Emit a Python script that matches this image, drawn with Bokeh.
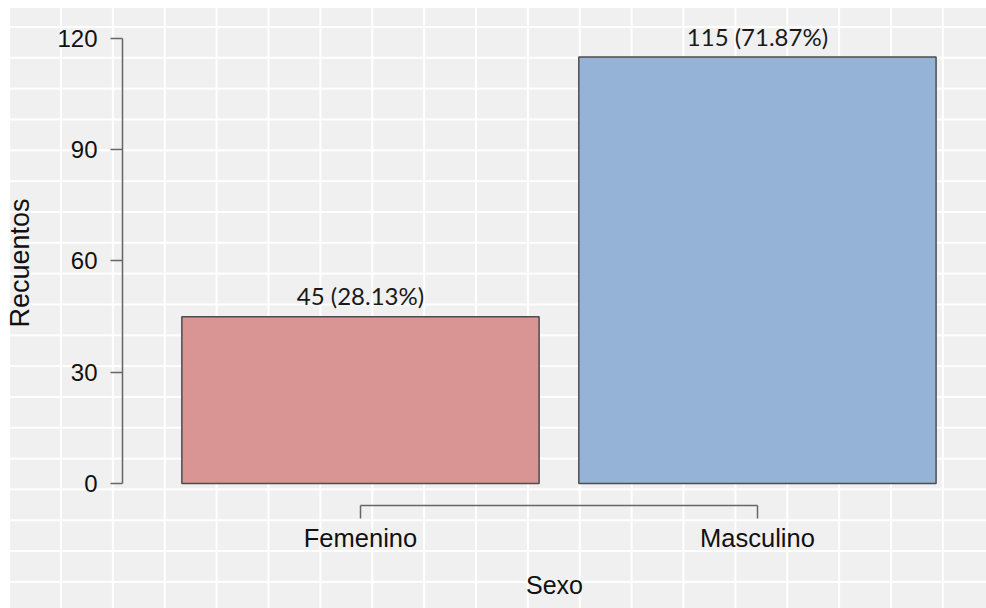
from bokeh.plotting import figure
from bokeh.models import Range1d, FixedTicker, ColumnDataSource
from bokeh.core.properties import value
from bokeh.embed import file_html
from bokeh.resources import INLINE
import numpy as np

# ---- data ----
categories = ["Femenino", "Masculino"]
counts = [45, 115]
bar_labels = ["45 (28.13%)", "115 (71.87%)"]
bar_colors = ["#d99594", "#95b3d7"]
y_ticks = [0, 30, 60, 90, 120]
x_title = "Sexo"
y_title = "Recuentos"

xpos = list(np.arange(1, len(categories) + 1))

src = ColumnDataSource(dict(x=xpos, top=counts, label=bar_labels, color=bar_colors))

p = figure(width=986, height=608, output_backend="svg", toolbar_location=None,
           x_range=Range1d(0.4005, 2.577), y_range=Range1d(-5.93, 124.85))
p.min_border_left = 122
p.min_border_top = 20
p.min_border_right = 0
p.min_border_bottom = 103
p.background_fill_color = None
p.border_fill_color = None
p.outline_line_color = None
p.styles = {
    "background-color": "#f0f0f0",
    "background-image": ", ".join([
        "linear-gradient(to right, #ffffff 9px, transparent 9px)",
        "linear-gradient(to bottom, #ffffff 8px, transparent 8px)",
        "linear-gradient(to right, #ffffff 2px, transparent 2px)",
        "linear-gradient(to bottom, #ffffff 2px, transparent 2px)",
    ]),
    "background-size": "100% 100%, 100% 100%, 51.875px 100%, 100% 30.83px",
    "background-repeat": "no-repeat, no-repeat, repeat, repeat",
    "background-position": "0 0, 0 0, 8.125px 0, 0 26px",
}
p.xgrid.visible = False
p.ygrid.visible = False

p.vbar(x="x", top="top", bottom=0, width=0.9, fill_color="color", line_color="#4d4d4d",
       line_width=1.5, source=src)

p.text(x="x", y="top", text="label", source=src, text_align="center",
       text_baseline="alphabetic", y_offset=-21, text_font=value("Lato"),
       text_font_size="24px", text_color="#1a1a1a")

axis_font = "Liberation Sans"
for ax in (p.xaxis[0], p.yaxis[0]):
    ax.axis_line_color = "#666666"
    ax.axis_line_width = 1.5
    ax.major_tick_line_color = "#666666"
    ax.major_tick_line_width = 1.5
    ax.major_tick_in = 0
    ax.minor_tick_line_color = None
    ax.major_label_text_font = axis_font
    ax.major_label_text_color = "#111111"
    ax.axis_label_text_font = axis_font
    ax.axis_label_text_font_style = "normal"
    ax.axis_label_text_color = "#111111"

xa = p.xaxis[0]
xa.ticker = FixedTicker(ticks=xpos)
xa.major_label_overrides = {int(k): v for k, v in zip(xpos, categories)}
xa.bounds = (xpos[0], xpos[-1])
xa.major_tick_out = 13
xa.major_label_standoff = 5
xa.major_label_text_font_size = "25.5px"
xa.axis_label = x_title
xa.axis_label_text_font_size = "25px"
xa.axis_label_standoff = 16

ya = p.yaxis[0]
ya.ticker = FixedTicker(ticks=y_ticks)
ya.bounds = (y_ticks[0], y_ticks[-1])
ya.major_tick_out = 12
ya.major_label_standoff = 13
ya.major_label_text_font_size = "24px"
ya.axis_label = y_title
ya.axis_label_text_font_size = "27px"
ya.axis_label_standoff = 19

open("out.html", "w").write(file_html(p, INLINE))
